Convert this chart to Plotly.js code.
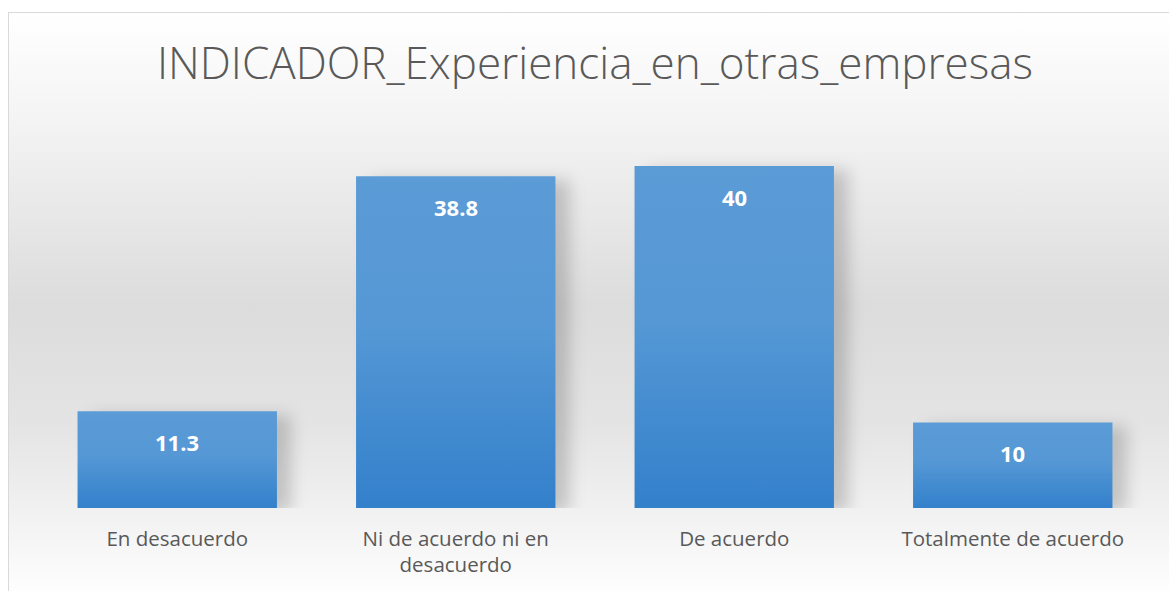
<!DOCTYPE html>
<html>
<head>
<meta charset="utf-8">
<script src="https://cdn.plot.ly/plotly-3.0.1.min.js"></script>
<style>
  html, body { margin: 0; padding: 0; background: #ffffff; }
  #wrap { position: relative; width: 1169px; height: 591px; overflow: hidden; background: #ffffff; }
  #frame { position: absolute; left: 8px; top: 12px; width: 1170px; height: 590px;
           border: 1px solid #d9d9d9; box-sizing: border-box;
           background: linear-gradient(to bottom, #ffffff 0%, #f4f4f4 18%, #dcdcdc 50%, #e4e4e4 70%, #f4f4f4 88%, #ffffff 100%); }
  #chart { position: absolute; left: 0; top: 0; width: 1169px; height: 591px; }
</style>
</head>
<body>
<div id="wrap">
  <div id="frame"></div>
  <div id="chart"></div>
</div>
<script>
const categories = ["En desacuerdo", "Ni de acuerdo ni en<br>desacuerdo", "De acuerdo", "Totalmente de acuerdo"];
const values = [11.3, 38.8, 40, 10];
const valueLabels = ["11.3", "38.8", "40", "10"];

const trace = {
  type: "bar",
  x: categories,
  y: values,
  width: 0.716,
  marker: { color: "#4a8fd4", line: { width: 0 } },
  hoverinfo: "none"
};

const annotations = categories.map((c, i) => ({
  x: c, y: values[i], xref: "x", yref: "y",
  text: "<b>" + valueLabels[i] + "</b>",
  showarrow: false, yshift: -31,
  font: { family: "Open Sans, Noto Sans, sans-serif", size: 22, color: "#ffffff" }
}));

const layout = {
  width: 1169, height: 591,
  paper_bgcolor: "rgba(0,0,0,0)",
  plot_bgcolor: "rgba(0,0,0,0)",
  margin: { l: 38, r: 17, t: 130, b: 83 },
  title: {
    text: "INDICADOR_Experiencia_en_otras_empresas",
    x: 0.509, xanchor: "center", y: 0.893, yanchor: "middle",
    font: { family: "Open Sans, sans-serif", size: 44, color: "#595959", weight: 300 }
  },
  xaxis: {
    tickfont: { family: "Open Sans, Noto Sans, sans-serif", size: 20.5, color: "#595959" },
    ticklabelstandoff: 16,
    showline: false, showgrid: false, zeroline: false, ticks: "", fixedrange: true
  },
  yaxis: {
    range: [0, 44.2], visible: false, showgrid: false, zeroline: false, fixedrange: true
  },
  annotations: annotations,
  showlegend: false
};

Plotly.newPlot("chart", [trace], layout, { displayModeBar: false, staticPlot: true }).then(gd => {
  const svg = gd.querySelector("svg.main-svg");
  const ns = "http://www.w3.org/2000/svg";
  let defs = svg.querySelector("defs");
  if (!defs) { defs = document.createElementNS(ns, "defs"); svg.insertBefore(defs, svg.firstChild); }
  const grad = document.createElementNS(ns, "linearGradient");
  grad.setAttribute("id", "barGrad");
  grad.setAttribute("x1", "0"); grad.setAttribute("y1", "0");
  grad.setAttribute("x2", "0"); grad.setAttribute("y2", "1");
  [["0%", "#5b9bd6"], ["45%", "#5598d5"], ["100%", "#3380cb"]].forEach(([o, c]) => {
    const s = document.createElementNS(ns, "stop");
    s.setAttribute("offset", o); s.setAttribute("stop-color", c);
    grad.appendChild(s);
  });
  defs.appendChild(grad);
  gd.querySelectorAll(".bars .point path").forEach(p => {
    p.style.fill = "url(#barGrad)";
    p.style.filter = "drop-shadow(14px 4px 8px rgba(0,0,0,0.18))";
  });
});
</script>
</body>
</html>
